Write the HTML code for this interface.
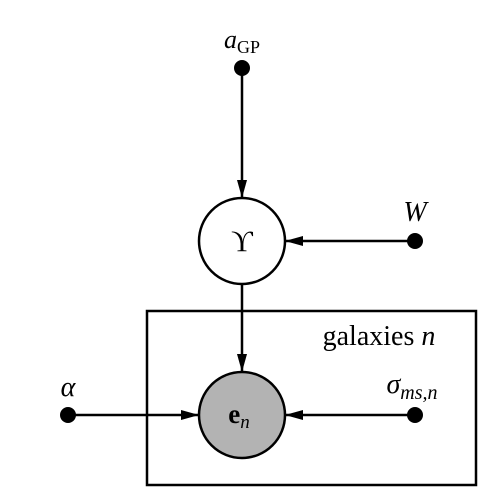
<!DOCTYPE html>
<html>
<head>
<meta charset="utf-8">
<style>
html,body{margin:0;padding:0;background:#fff;}
svg{display:block;}
text{font-family:"Liberation Serif","DejaVu Serif",serif;fill:#000;}
</style>
</head>
<body>
<svg width="485" height="502" viewBox="0 0 485 502" xmlns="http://www.w3.org/2000/svg">
  <defs>
    <marker id="ah" markerWidth="20" markerHeight="10" refX="18" refY="5" orient="auto" markerUnits="userSpaceOnUse">
      <path d="M0,0 L18,5 L0,10 Z" fill="#000"/>
    </marker>
  </defs>

  <rect x="147" y="311" width="329" height="174" fill="none" stroke="#000" stroke-width="2.5"/>
  <text x="379" y="345" font-size="28" text-anchor="middle">galaxies <tspan font-style="italic">n</tspan></text>

  <line x1="242" y1="68" x2="242" y2="198" stroke="#000" stroke-width="2.5" marker-end="url(#ah)"/>
  <line x1="415" y1="241" x2="285" y2="241" stroke="#000" stroke-width="2.5" marker-end="url(#ah)"/>
  <line x1="242" y1="284" x2="242" y2="372" stroke="#000" stroke-width="2.5" marker-end="url(#ah)"/>
  <line x1="68" y1="415" x2="199" y2="415" stroke="#000" stroke-width="2.5" marker-end="url(#ah)"/>
  <line x1="415" y1="415" x2="285" y2="415" stroke="#000" stroke-width="2.5" marker-end="url(#ah)"/>

  <circle cx="242" cy="68" r="8" fill="#000"/>
  <text x="242" y="48" font-size="26" text-anchor="middle"><tspan font-style="italic">a</tspan><tspan font-size="18" dy="5">GP</tspan></text>

  <circle cx="242" cy="241" r="43" fill="#fff" stroke="#000" stroke-width="2.5"/>
  <text x="242" y="251" font-size="30" text-anchor="middle">ϒ</text>

  <circle cx="415" cy="241" r="8" fill="#000"/>
  <text x="415" y="221" font-size="28" font-style="italic" text-anchor="middle">W</text>

  <circle cx="242" cy="415" r="43" fill="#b3b3b3" stroke="#000" stroke-width="2.5"/>
  <text x="239" y="423" font-size="27" font-weight="bold" text-anchor="middle">e<tspan font-weight="normal" font-style="italic" font-size="19" dy="5">n</tspan></text>

  <circle cx="68" cy="415" r="8" fill="#000"/>
  <text x="68" y="396" font-size="28" font-style="italic" text-anchor="middle">α</text>

  <circle cx="415" cy="415" r="8" fill="#000"/>
  <text x="412" y="393" font-size="28" font-style="italic" text-anchor="middle">σ<tspan font-size="20" dy="6">ms,n</tspan></text>
</svg>
</body>
</html>
